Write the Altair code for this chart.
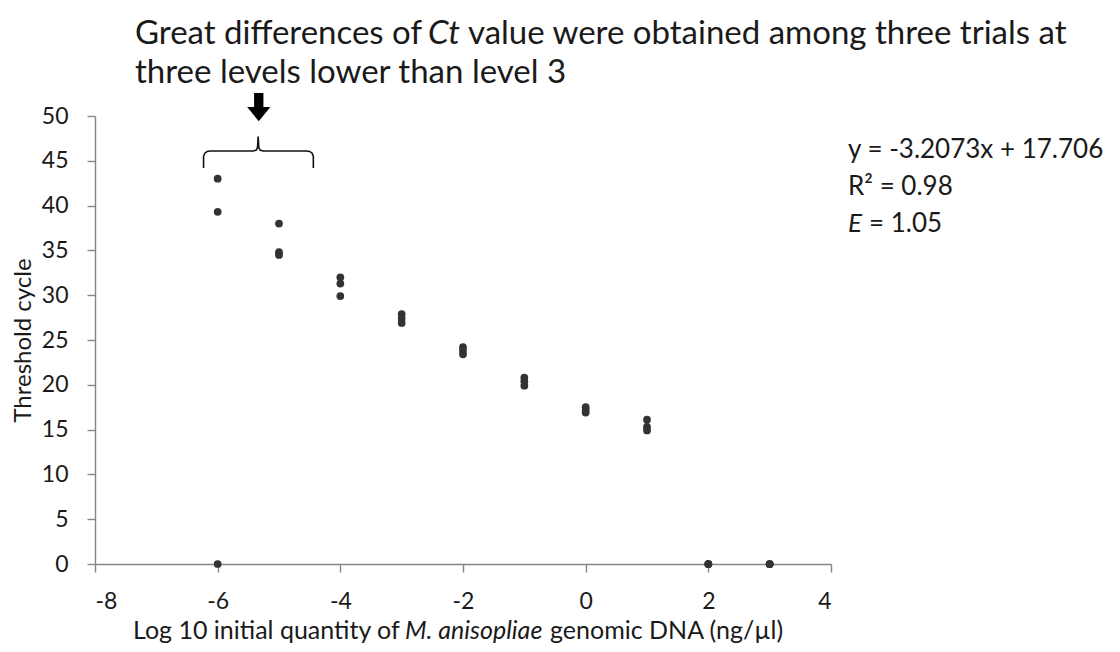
import altair as alt
import pandas as pd

# ---- data ----
log_qty = [-6, -6, -6, -5, -5, -5, -4, -4, -4, -3, -3, -3, -2, -2, -2,
           -1, -1, -1, 0, 0, 0, 1, 1, 1, 2, 2, 2, 3, 3, 3]
ct_vals = [43.0, 39.3, 0.0, 38.0, 34.8, 34.5, 32.0, 31.3, 29.9, 27.9, 27.4, 26.9,
           24.2, 23.8, 23.4, 20.8, 20.4, 19.9, 17.5, 17.2, 16.9, 16.1, 15.3, 14.9,
           0.0, 0.0, 0.0, 0.0, 0.0, 0.0]
x_ticks = [-8, -6, -4, -2, 0, 2, 4]
y_ticks = [0, 5, 10, 15, 20, 25, 30, 35, 40, 45, 50]

# brace annotation (data coordinates)
brace_x = [-6.23, -6.23, -6.21, -6.17, -6.12, -5.42, -5.37, -5.35, -5.34,
           -5.33, -5.31, -5.26, -4.55, -4.50, -4.46, -4.44, -4.44]
brace_y = [44.2, 45.5, 45.85, 46.05, 46.1, 46.1, 46.2, 46.5, 47.7,
           46.5, 46.2, 46.1, 46.1, 46.05, 45.85, 45.5, 44.2]
arrow_x = [-5.33]
arrow_y = [51.0]

FONT = "Lato"
W, H = 736, 448

df = pd.DataFrame({"x": log_qty, "y": ct_vals})
brace = pd.DataFrame({"x": brace_x, "y": brace_y, "o": list(range(len(brace_x)))})
arrow = pd.DataFrame({"x": arrow_x, "y": arrow_y})

xscale = alt.Scale(domain=[-8, 4], nice=False, zero=False)
yscale = alt.Scale(domain=[0, 50], nice=False)

LS = 23
xaxis = alt.Axis(values=x_ticks, title=None, grid=False, labelFontSize=LS,
                 labelFont=FONT, labelColor="#1a1a1a", domainColor="#858585",
                 tickColor="#858585", domainWidth=1.4, tickWidth=1.4, tickSize=8,
                 labelPadding=18, labelExpr="'' + datum.value")
yaxis = alt.Axis(values=y_ticks, title="Threshold cycle", grid=False, labelFontSize=LS,
                 labelFont=FONT, labelColor="#1a1a1a", domainColor="#858585",
                 tickColor="#858585", domainWidth=1.4, tickWidth=1.4, tickSize=8,
                 labelPadding=19, titleFont=FONT, titleFontSize=24,
                 titleFontWeight="normal", titleColor="#1a1a1a", titlePadding=6)

points = alt.Chart(df).mark_circle(size=60, color="#333333", opacity=1).encode(
    x=alt.X("x:Q", scale=xscale, axis=xaxis),
    y=alt.Y("y:Q", scale=yscale, axis=yaxis),
)

brace_line = alt.Chart(brace).mark_line(color="#111111", strokeWidth=1.6, clip=False).encode(
    x=alt.X("x:Q", scale=xscale), y=alt.Y("y:Q", scale=yscale), order="o:Q"
)

arrow_mark = alt.Chart(arrow).mark_point(
    shape="M-0.33,-1L0.33,-1L0.33,0L0.82,0L0,1L-0.82,0L-0.33,0Z",
    size=800, filled=True, color="#000000", opacity=1, strokeWidth=0, clip=False
).encode(x=alt.X("x:Q", scale=xscale), y=alt.Y("y:Q", scale=yscale))


def txt(s, px, py, size, italic=False, align="left"):
    return alt.Chart(pd.DataFrame({"t": [s]})).mark_text(
        font=FONT, fontSize=size, fontStyle="italic" if italic else "normal",
        align=align, baseline="middle", color="#1a1a1a"
    ).encode(text="t:N", x=alt.value(px), y=alt.value(py))


# title (two lines, "Ct" italic)
TS = 33
t1 = txt("Great differences of", 40, -82, TS)
t2 = txt("Ct", 333, -82, TS, italic=True)
t3 = txt("value were obtained among three trials at", 373, -82, TS)
t4 = txt("three levels lower than level 3", 40, -43, TS)

# x axis title
XS = 25
x1 = txt("Log 10 initial quantity of", 38, 515, XS)
x2 = txt("M. anisopliae", 310, 515, XS, italic=True)
x3 = txt("genomic DNA (ng/\u00b5l)", 455, 515, XS)

# equation
ES = 26
e1 = txt("y = -3.2073x + 17.706", 753, 34, ES)
e2 = txt("R\u00b2 = 0.98", 753, 71, ES)
e3 = txt("E", 753, 108, ES, italic=True)
e4 = txt("= 1.05", 774, 108, ES)

chart = alt.layer(points, brace_line, arrow_mark, t1, t2, t3, t4, x1, x2, x3, e1, e2, e3, e4).properties(
    width=W, height=H,
    background="white",
    autosize=alt.AutoSizeParams(type="none"),
    padding={"left": 87, "top": 108, "right": 281, "bottom": 80},
).configure_view(strokeWidth=0)

chart.save("out.html", embed_options={"renderer": "svg", "actions": False})
